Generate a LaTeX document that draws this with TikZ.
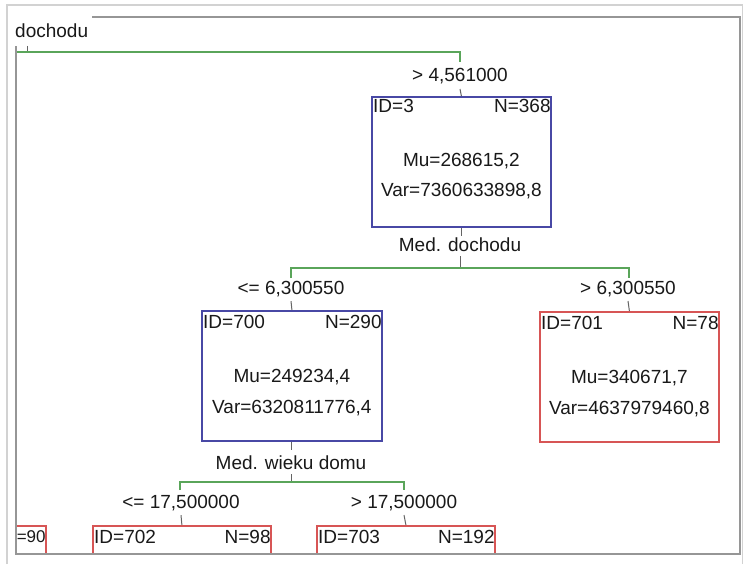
\documentclass[tikz,border=0pt]{standalone}
\usepackage{fontspec}
\setmainfont{Liberation Sans}
\definecolor{bbox}{RGB}{72,72,165}
\definecolor{rbox}{RGB}{215,85,85}
\definecolor{gline}{RGB}{90,165,90}
\definecolor{framec}{RGB}{150,150,150}
\definecolor{lframe}{RGB}{210,210,210}
\definecolor{tickc}{RGB}{100,100,100}
\begin{document}
\begin{tikzpicture}[x=1pt,y=-1pt,
 txt/.style={inner sep=0pt, font=\fontsize{19}{22}\selectfont, text=black!90},
 blubox/.style={draw=bbox, line width=1.8pt, rectangle, anchor=north west, minimum height=130pt},
 redbox/.style={draw=rbox, line width=1.8pt, rectangle, anchor=north west, minimum height=130pt},
 brk/.style={draw=gline, line width=2pt},
 tk/.style={draw=tickc, line width=1pt},
 framel/.style={draw=framec, line width=1.6pt},
 lframel/.style={draw=lframe, line width=1.6pt}]
\useasboundingbox (0,0) rectangle (743,564);
\fill[white] (0,0) rectangle (743,564);

% frames
\draw[lframel] (7,564) -- (7,5) -- (743,5);
\draw[lframel] (743,5) -- (743,564);
\draw[framel] (92,17) -- (740,17) -- (740,554) -- (16,554) -- (16,46);
\draw[tk] (27,46) -- (27,52);

% top-left label
\node[txt, anchor=west] (l0) at (15,31) {dochodu};

% root bracket
\coordinate (rootL) at (16,52);
\coordinate (rootR) at (460,52);
\draw[brk] (rootL) -- (rootR) -- ++(0,10);

% node 3
\node[blubox, minimum width=179pt] (n3) at (371,96) {};
\node[txt] (l1) at (460,76) {> 4,561000};
\draw[tk] ([yshift=-5pt]l1.south) -- (n3.north);
\node[txt, anchor=west] (n3id) at ([xshift=2pt,yshift=-10pt]n3.north west) {ID=3};
\node[txt, anchor=east] (n3n) at ([xshift=-1pt,yshift=-10pt]n3.north east) {N=368};
\node[txt] (n3mu) at ([yshift=-65pt]n3.north) {Mu=268615,2};
\node[txt] (n3var) at ([yshift=-95pt]n3.north) {Var=7360633898,8};

% split 1
\draw[tk] (n3.south) -- ++(0,8);
\node[txt] (l2) at (460,245) {Med. dochodu};
\coordinate (b1c) at (460,268);
\coordinate (b1L) at (291,268);
\coordinate (b1R) at (629,268);
\draw[tk] ([yshift=-4pt]l2.south) -- (b1c);
\draw[brk] ([yshift=-10pt]b1L) -- (b1L) -- (b1R) -- ([yshift=-10pt]b1R);

% node 700
\node[blubox, minimum width=180pt] (n700) at (201,310) {};
\node[txt] (l3) at (291,289) {<= 6,300550};
\draw[tk] ([yshift=-4pt]l3.south) -- (n700.north);
\node[txt, anchor=west] (n700id) at ([xshift=2pt,yshift=-12pt]n700.north west) {ID=700};
\node[txt, anchor=east] (n700n) at ([xshift=-1pt,yshift=-12pt]n700.north east) {N=290};
\node[txt] (n700mu) at ([yshift=-67pt]n700.north) {Mu=249234,4};
\node[txt] (n700var) at ([yshift=-98pt]n700.north) {Var=6320811776,4};

% node 701
\node[redbox, minimum width=179pt] (n701) at (539,311) {};
\node[txt] (l4) at (628,289) {> 6,300550};
\draw[tk] ([yshift=-4pt]l4.south) -- (n701.north);
\node[txt, anchor=west] (n701id) at ([xshift=2pt,yshift=-12pt]n701.north west) {ID=701};
\node[txt, anchor=east] (n701n) at ([xshift=-1pt,yshift=-12pt]n701.north east) {N=78};
\node[txt] (n701mu) at ([yshift=-67pt]n701.north) {Mu=340671,7};
\node[txt] (n701var) at ([yshift=-98pt]n701.north) {Var=4637979460,8};

% split 2
\draw[tk] (n700.south) -- ++(0,8);
\node[txt] (l5) at (291,463) {Med. wieku domu};
\coordinate (b2c) at (291,482);
\coordinate (b2L) at (180,482);
\coordinate (b2R) at (404,482);
\draw[tk] ([yshift=-4pt]l5.south) -- (b2c);
\draw[brk] ([yshift=-8pt]b2L) -- (b2L) -- (b2R) -- ([yshift=-8pt]b2R);

\node[txt] (l6) at (181,503) {<= 17,500000};
\node[txt] (l7) at (404,503) {> 17,500000};

% bottom nodes (clipped)
\begin{scope}
\clip (17,0) rectangle (740,553);
\node[redbox, minimum width=165pt] (n90) at (-120,525) {};
\node[redbox, minimum width=178pt] (n702) at (92,525) {};
\node[redbox, minimum width=178pt] (n703) at (316,525) {};
\end{scope}
\node[txt, anchor=east, font=\fontsize{17}{20}\selectfont] (n90n) at ([xshift=-1pt,yshift=-12pt]n90.north east) {=90};
\draw[tk] ([yshift=-4pt]l6.south) -- (n702.north);
\draw[tk] ([yshift=-4pt]l7.south) -- (n703.north);
\node[txt, anchor=west] (n702id) at ([xshift=2pt,yshift=-12pt]n702.north west) {ID=702};
\node[txt, anchor=east] (n702n) at ([xshift=-1pt,yshift=-12pt]n702.north east) {N=98};
\node[txt, anchor=west] (n703id) at ([xshift=2pt,yshift=-12pt]n703.north west) {ID=703};
\node[txt, anchor=east] (n703n) at ([xshift=-1pt,yshift=-12pt]n703.north east) {N=192};
\draw[framel] (740,554) -- (16,554) -- (16,46);
\end{tikzpicture}
\end{document}
